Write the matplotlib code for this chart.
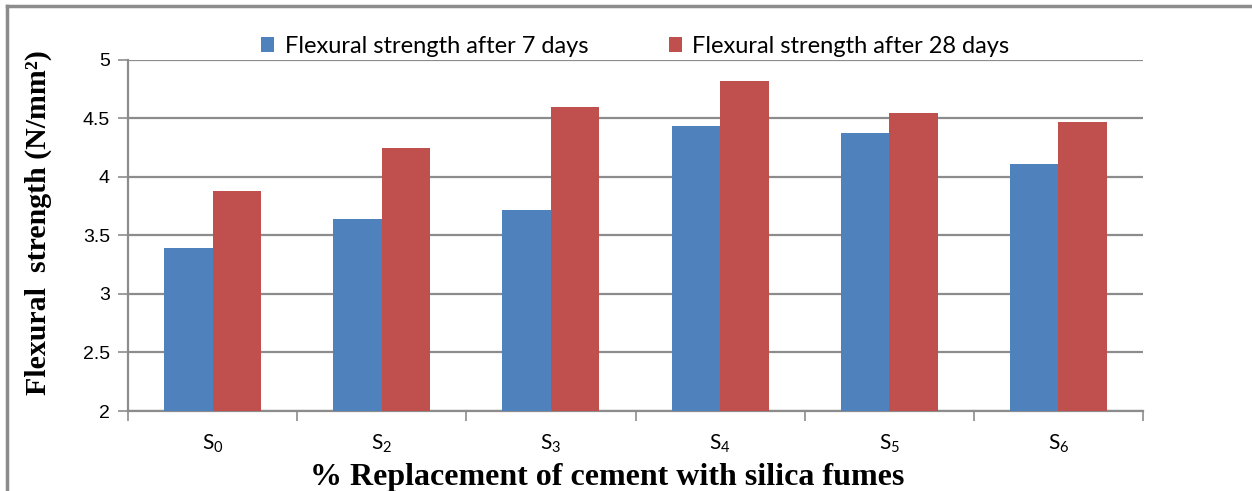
import numpy as np
import matplotlib.pyplot as plt
from matplotlib.lines import Line2D

plt.rcParams['mathtext.fontset'] = 'custom'
plt.rcParams['mathtext.rm'] = 'Lato'
plt.rcParams['mathtext.it'] = 'Lato:italic'
plt.rcParams['mathtext.bf'] = 'Lato:bold'

# Data
categories = ['$\\mathrm{S_0}$', '$\\mathrm{S_2}$', '$\\mathrm{S_3}$',
              '$\\mathrm{S_4}$', '$\\mathrm{S_5}$', '$\\mathrm{S_6}$']
days7 = [3.39, 3.64, 3.72, 4.44, 4.38, 4.11]
days28 = [3.88, 4.25, 4.60, 4.82, 4.55, 4.47]
yticks = [2, 2.5, 3, 3.5, 4, 4.5, 5]

narrow = ['Lato', 'DejaVu Sans']
serif = ['Liberation Serif', 'DejaVu Serif']

fig = plt.figure(figsize=(12.52, 4.91), dpi=100)
ax = fig.add_axes([128 / 1252, 1 - 411 / 491, (1143 - 128) / 1252, (411 - 60) / 491])

x = np.arange(len(categories))
w = 0.287
ax.bar(x - w / 2, days7, w, color='#4F81BD', label='Flexural strength after 7 days', zorder=3)
ax.bar(x + w / 2, days28, w, color='#C0504D', label='Flexural strength after 28 days', zorder=3)

ax.set_xlim(-0.5, len(categories) - 0.5)
ax.set_ylim(2, 5)
ax.set_yticks(yticks)
ax.set_yticklabels(['2', '2.5', '3', '3.5', '4', '4.5', '5'], fontsize=14,
                   family=['Liberation Sans', 'DejaVu Sans'])
ax.yaxis.grid(True, color='#8c8c8c', linewidth=1.6, zorder=0)
ax.set_axisbelow(True)

ax.set_xticks(x)
ax.set_xticklabels(categories, fontsize=15, family=narrow)
for t in ax.get_xticklabels():
    t.set_verticalalignment('baseline')
ax.set_xticks(np.arange(-0.5, len(categories)), minor=True)
ax.tick_params(axis='x', which='major', length=0, pad=28)
ax.tick_params(axis='x', which='minor', length=7, color='#8c8c8c', width=1.2, direction='out')
ax.tick_params(axis='y', length=7, color='#8c8c8c', width=1.2, direction='out', pad=6)

for s in ['top', 'right']:
    ax.spines[s].set_visible(False)
for s in ['left', 'bottom']:
    ax.spines[s].set_color('#8c8c8c')
    ax.spines[s].set_linewidth(1.6)

ax.set_xlabel('% Replacement of cement with silica fumes', fontsize=23, fontweight='bold',
              family=serif)
ax.xaxis.set_label_coords(0.472, -0.148)
ax.set_ylabel('Flexural  strength (N/mm²)', fontsize=21.5, fontweight='bold', family=serif)
ax.yaxis.set_label_coords(-0.075, 0.538)

leg = ax.legend(loc='lower center', bbox_to_anchor=(0.5, 0.982), ncol=2, frameon=False,
                prop={'family': narrow, 'size': 17}, handlelength=0.55, handleheight=0.55,
                columnspacing=3.4, handletextpad=0.45, borderaxespad=0)

# gray frame around the chart
fig.add_artist(Line2D([7 / 1252, 1], [1 - 6 / 491, 1 - 6 / 491], color='#8c8c8c', linewidth=2.5,
                      transform=fig.transFigure))
fig.add_artist(Line2D([7 / 1252, 7 / 1252], [0, 1 - 6 / 491], color='#8c8c8c', linewidth=2.5,
                      transform=fig.transFigure))

fig.savefig('out.png', dpi=100)
